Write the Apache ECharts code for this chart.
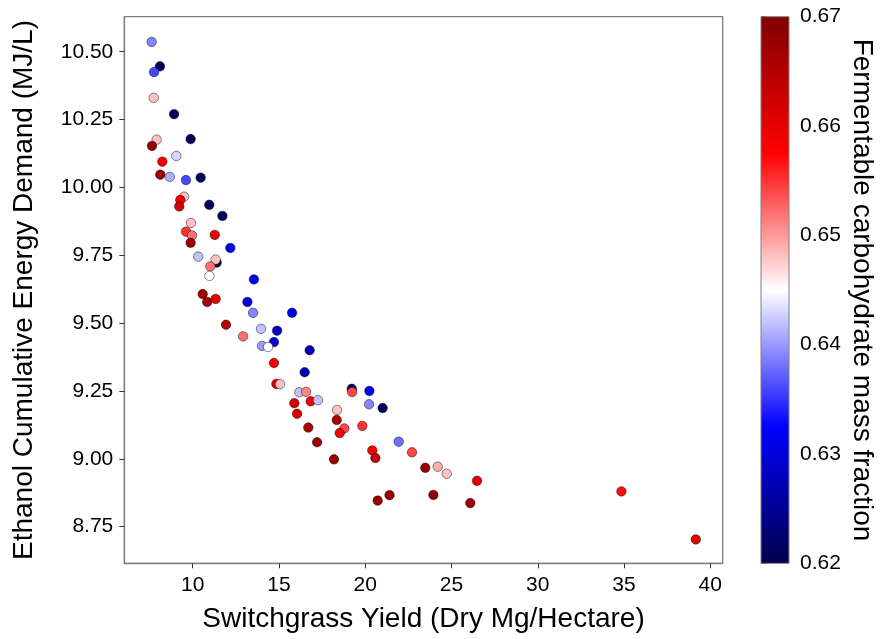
<!DOCTYPE html>
<html lang="en">
  <head>
    <meta charset="UTF-8" />
    <title>Switchgrass yield vs ethanol CED</title>
    <script src="https://cdn.jsdelivr.net/npm/echarts@6/dist/echarts.min.js"></script>
  </head>
  <body style="margin:0">
    <div id="container" style="width: 881px;height: 639px"></div>
    <script>
      // switchgrass yield (Dry Mg/Hectare)
      var yieldX = [7.62, 8.10, 7.76, 7.74, 8.92, 9.88, 7.91, 7.64, 9.05, 8.24,
        8.12, 8.67, 9.61, 10.46, 9.50, 9.28, 9.22, 10.96, 11.72, 9.90,
        9.61, 9.96, 11.28, 9.88, 12.18, 10.32, 11.39, 11.33, 11.02, 10.97,
        13.55, 10.58, 10.84, 11.33, 13.17, 13.50, 15.76, 11.93, 13.96, 14.89,
        12.92, 14.71, 14.02, 14.37, 16.78, 14.71, 16.49, 14.85, 15.06, 16.18,
        16.57, 19.22, 19.24, 20.24, 15.89, 16.84, 17.26, 20.22, 21.01, 18.37,
        16.05, 18.35, 18.79, 18.52, 19.83, 16.70, 17.21, 21.94, 20.41, 22.71,
        18.19, 20.59, 23.48, 24.20, 24.72, 26.48, 21.41, 20.72, 23.95, 26.09,
        34.85, 39.16]
      // ethanol cumulative energy demand (MJ/L)
      var cedY = [10.536, 10.446, 10.425, 10.330, 10.270, 10.178, 10.176, 10.153, 10.116, 10.095,
        10.047, 10.039, 10.027, 10.036, 9.966, 9.954, 9.930, 9.936, 9.895, 9.869,
        9.837, 9.823, 9.825, 9.796, 9.777, 9.745, 9.723, 9.734, 9.709, 9.674,
        9.661, 9.607, 9.578, 9.589, 9.578, 9.538, 9.538, 9.494, 9.479, 9.472,
        9.451, 9.430, 9.416, 9.412, 9.400, 9.353, 9.319, 9.276, 9.275, 9.245,
        9.247, 9.258, 9.246, 9.250, 9.205, 9.212, 9.216, 9.201, 9.187, 9.180,
        9.166, 9.143, 9.112, 9.095, 9.121, 9.115, 9.061, 9.063, 9.031, 9.024,
        8.998, 9.003, 8.967, 8.971, 8.945, 8.919, 8.866, 8.846, 8.867, 8.837,
        8.880, 8.703]
      // fermentable carbohydrate mass fraction
      var carbFrac = [0.639, 0.621, 0.636, 0.648, 0.621, 0.621, 0.648, 0.668, 0.643, 0.659,
        0.667, 0.641, 0.636, 0.621, 0.648, 0.659, 0.662, 0.621, 0.621, 0.648,
        0.655, 0.652, 0.659, 0.667, 0.631, 0.642, 0.621, 0.648, 0.652, 0.645,
        0.632, 0.667, 0.666, 0.660, 0.631, 0.639, 0.631, 0.665, 0.642, 0.628,
        0.652, 0.630, 0.640, 0.645, 0.627, 0.658, 0.627, 0.660, 0.648, 0.642,
        0.651, 0.621, 0.654, 0.632, 0.662, 0.659, 0.642, 0.639, 0.621, 0.648,
        0.661, 0.666, 0.654, 0.658, 0.655, 0.666, 0.667, 0.638, 0.658, 0.654,
        0.667, 0.663, 0.667, 0.649, 0.648, 0.660, 0.667, 0.667, 0.668, 0.667,
        0.657, 0.660]

      var xTicks = [10, 15, 20, 25, 30, 35, 40]
      var yTicks = [8.75, 9.0, 9.25, 9.5, 9.75, 10.0, 10.25, 10.5]
      var cbTicks = [0.62, 0.63, 0.64, 0.65, 0.66, 0.67]
      var cbMin = 0.62
      var cbMax = 0.67
      // seismic colormap stops
      var seismic = ['#00004d', '#0000ff', '#ffffff', '#ff0000', '#800000']

      var points = yieldX.map(function(x, i) {
        return [x, cedY[i], carbFrac[i]]
      })

      var font = 'Liberation Sans, Arial, sans-serif'
      var gray = '#7f7f7f'

      var myChart = echarts.init(document.querySelector('#container'))
      myChart.setOption({
        backgroundColor: '#ffffff',
        textStyle: { fontFamily: font },
        grid: [
          { left: 124.3, top: 16.7, width: 598.4, height: 546.6, show: true, borderColor: gray, borderWidth: 1.3 },
          { left: 761, top: 16.7, width: 28, height: 546.6 }
        ],
        xAxis: [
          {
            gridIndex: 0,
            type: 'value',
            min: 6.035,
            max: 40.72,
            name: 'Switchgrass Yield (Dry Mg/Hectare)',
            nameLocation: 'middle',
            nameGap: 42,
            nameTextStyle: { fontSize: 28, color: '#000', fontFamily: font },
            axisLine: { onZero: false, lineStyle: { color: gray, width: 1.3 } },
            axisTick: { customValues: xTicks, length: 5, lineStyle: { color: '#333' } },
            axisLabel: { customValues: xTicks, fontSize: 21, color: '#000', margin: 11, fontFamily: font },
            splitLine: { show: false }
          },
          { gridIndex: 1, type: 'value', min: 0, max: 1, show: false }
        ],
        yAxis: [
          {
            gridIndex: 0,
            type: 'value',
            min: 8.615,
            max: 10.629,
            name: 'Ethanol Cumulative Energy Demand (MJ/L)',
            nameLocation: 'middle',
            nameGap: 86,
            nameTextStyle: { fontSize: 28, color: '#000', fontFamily: font },
            axisLine: { show: true, onZero: false, lineStyle: { color: gray, width: 1.3 } },
            axisTick: { show: true, customValues: yTicks, length: 5, lineStyle: { color: '#333' } },
            axisLabel: {
              customValues: yTicks,
              fontSize: 21,
              color: '#000',
              margin: 11,
              fontFamily: font,
              formatter: function(v) { return v.toFixed(2) }
            },
            splitLine: { show: false }
          },
          {
            gridIndex: 1,
            type: 'value',
            position: 'right',
            min: cbMin,
            max: cbMax,
            interval: 0.01,
            name: 'Fermentable carbohydrate mass fraction',
            nameLocation: 'middle',
            nameRotate: -90,
            nameGap: 59,
            nameTextStyle: { fontSize: 28, color: '#000', fontFamily: font },
            axisLine: { show: false },
            axisTick: { show: true, customValues: cbTicks, length: 5, lineStyle: { color: '#333' } },
            axisLabel: {
              customValues: cbTicks,
              fontSize: 21,
              color: '#000',
              margin: 11,
              fontFamily: font,
              formatter: function(v) { return v.toFixed(2) }
            },
            splitLine: { show: false }
          }
        ],
        visualMap: {
          type: 'continuous',
          show: false,
          seriesIndex: 0,
          dimension: 2,
          min: cbMin,
          max: cbMax,
          inRange: { color: seismic }
        },
        series: [
          {
            type: 'scatter',
            xAxisIndex: 0,
            yAxisIndex: 0,
            symbolSize: 9.5,
            itemStyle: { borderColor: 'rgba(0,0,0,0.65)', borderWidth: 0.7, opacity: 1 },
            data: points
          },
          {
            // colour bar drawn on the second grid's axes
            type: 'custom',
            xAxisIndex: 1,
            yAxisIndex: 1,
            data: [[0, cbMin, 1, cbMax]],
            renderItem: function(params, api) {
              var p0 = api.coord([api.value(0), api.value(1)])
              var p1 = api.coord([api.value(2), api.value(3)])
              return {
                type: 'rect',
                shape: { x: p0[0], y: p1[1], width: p1[0] - p0[0], height: p0[1] - p1[1] },
                style: {
                  fill: {
                    type: 'linear', x: 0, y: 1, x2: 0, y2: 0,
                    colorStops: seismic.map(function(c, i) {
                      return { offset: i / (seismic.length - 1), color: c }
                    })
                  },
                  stroke: gray,
                  lineWidth: 1
                }
              }
            }
          }
        ]
      })
    </script>
  </body>
</html>
